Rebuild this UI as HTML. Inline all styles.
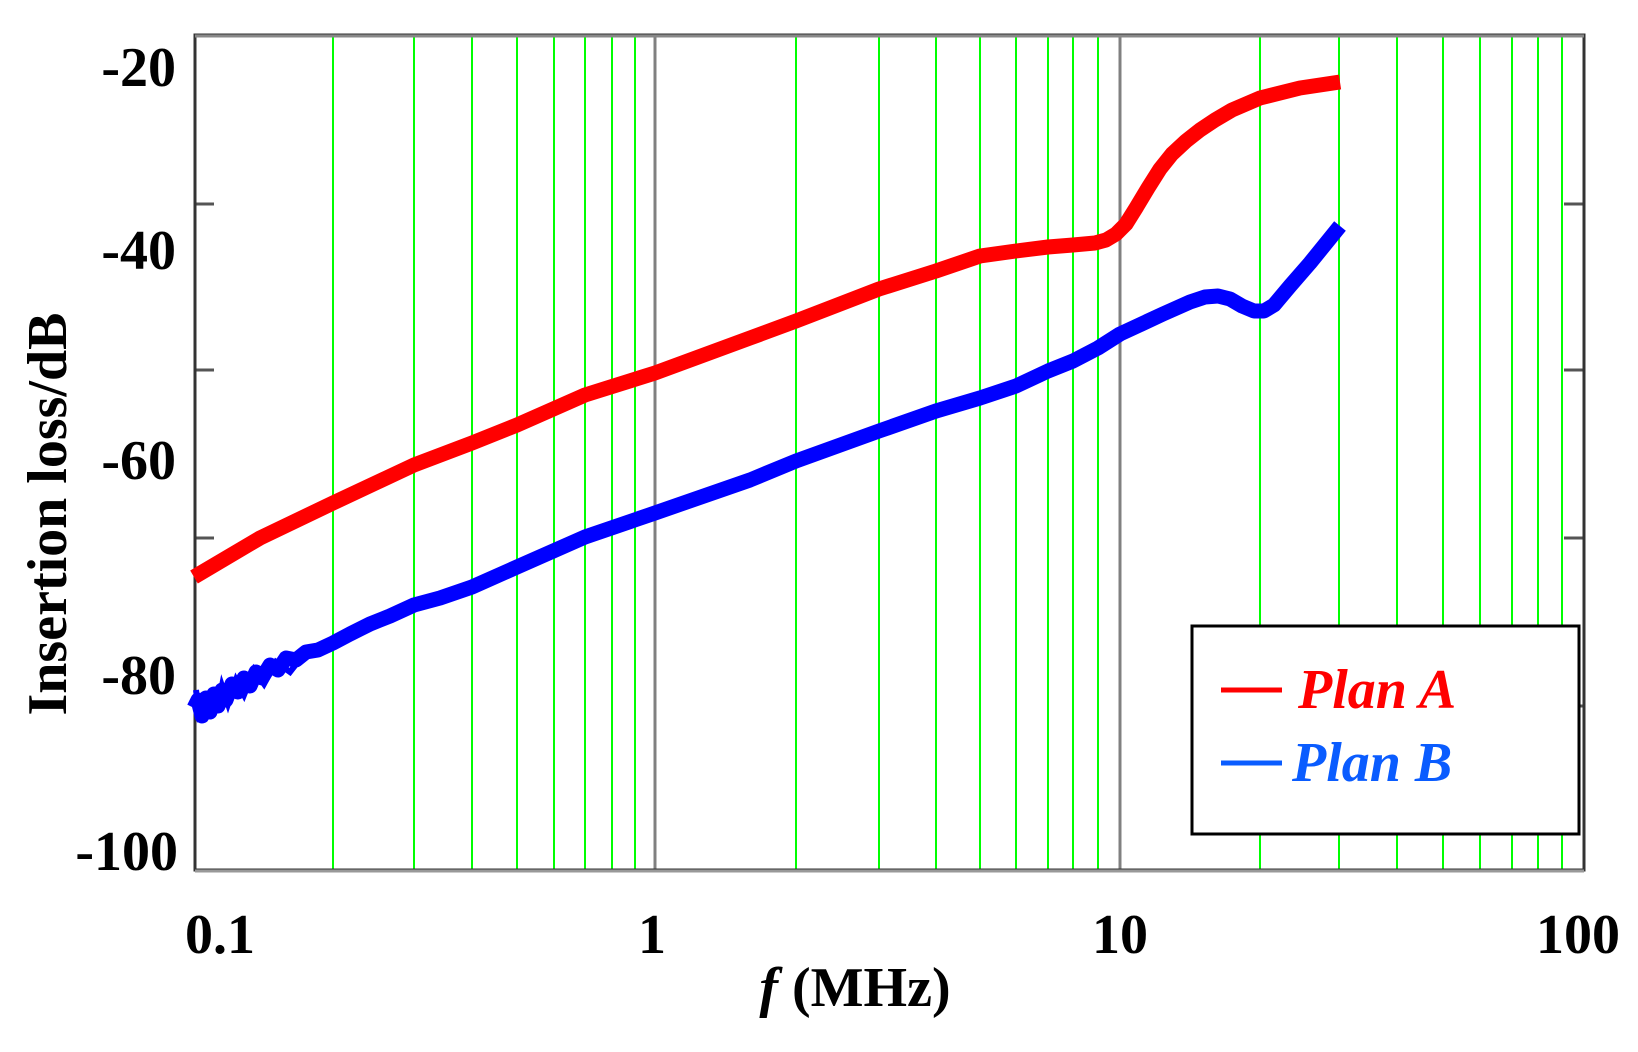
<!DOCTYPE html>
<html><head><meta charset="utf-8"><style>
html,body{margin:0;padding:0;background:#fff}
svg{display:block}
text{font-family:"Liberation Serif",serif;font-weight:bold}
</style></head><body>
<svg width="1638" height="1052" viewBox="0 0 1638 1052" xmlns="http://www.w3.org/2000/svg">
<g stroke="#00ff00" stroke-width="2">
<line x1="333" y1="36" x2="333" y2="870"/><line x1="414" y1="36" x2="414" y2="870"/>
<line x1="472" y1="36" x2="472" y2="870"/><line x1="517" y1="36" x2="517" y2="870"/>
<line x1="554" y1="36" x2="554" y2="870"/><line x1="585" y1="36" x2="585" y2="870"/>
<line x1="612" y1="36" x2="612" y2="870"/><line x1="635" y1="36" x2="635" y2="870"/>
<line x1="796" y1="36" x2="796" y2="870"/><line x1="879" y1="36" x2="879" y2="870"/>
<line x1="936" y1="36" x2="936" y2="870"/><line x1="980" y1="36" x2="980" y2="870"/>
<line x1="1016" y1="36" x2="1016" y2="870"/><line x1="1048" y1="36" x2="1048" y2="870"/>
<line x1="1073" y1="36" x2="1073" y2="870"/><line x1="1098" y1="36" x2="1098" y2="870"/>
<line x1="1260" y1="36" x2="1260" y2="870"/><line x1="1339" y1="36" x2="1339" y2="870"/>
<line x1="1397" y1="36" x2="1397" y2="870"/><line x1="1443" y1="36" x2="1443" y2="870"/>
<line x1="1480" y1="36" x2="1480" y2="870"/><line x1="1512" y1="36" x2="1512" y2="870"/>
<line x1="1538" y1="36" x2="1538" y2="870"/><line x1="1562" y1="36" x2="1562" y2="870"/>
</g>
<g stroke="#808080" stroke-width="3">
<line x1="655" y1="36" x2="655" y2="870"/><line x1="1120" y1="36" x2="1120" y2="870"/>
</g>
<g stroke="#555" stroke-width="3">
<line x1="194" y1="204" x2="214" y2="204"/><line x1="194" y1="370" x2="214" y2="370"/>
<line x1="194" y1="538" x2="214" y2="538"/><line x1="194" y1="706" x2="214" y2="706"/>
<line x1="1564" y1="204" x2="1584" y2="204"/><line x1="1564" y1="370" x2="1584" y2="370"/>
<line x1="1564" y1="538" x2="1584" y2="538"/><line x1="1564" y1="706" x2="1584" y2="706"/>
</g>
<rect x="195" y="35" width="1389" height="835" fill="none" stroke="#333" stroke-width="3"/>
<line x1="195" y1="36" x2="1584" y2="36" stroke="#888" stroke-width="3"/>
<line x1="195" y1="871" x2="1584" y2="871" stroke="#999" stroke-width="3"/>
<polyline fill="none" stroke="#ff0000" stroke-width="15" stroke-linejoin="round" stroke-linecap="butt" points="194,577 260,538 333,503 414,465 472,443 517,425 585,395 655,373 750,338 796,321 879,289 936,271 980,256 1016,251 1048,247 1073,245 1095,243 1106,240 1116,234 1126,224 1136,208 1148,188 1160,169 1172,154 1186,141 1200,130 1215,120 1232,110 1260,98 1300,88 1340,82"/>
<polyline fill="none" stroke="#0000ff" stroke-width="15" stroke-linejoin="round" points="194,708 198,700 202,716 206,698 210,712 214,694 218,706 222,690 226,700 232,684 238,692 244,678 250,686 256,672 262,678 270,665 278,670 286,658 296,660 306,652 318,650 333,643 350,634 370,624 390,616 414,605 440,598 472,587 517,567 585,537 655,513 750,480 796,461 879,431 936,411 980,398 1016,386 1048,371 1073,361 1098,348 1120,334 1163,314 1190,302 1205,297 1218,296 1230,299 1242,306 1254,311 1264,311 1274,305 1290,286 1310,263 1340,226"/>
<polyline fill="none" stroke="#0000ff" stroke-width="6" points="196,690 200,722 204,695 208,718 213,690 217,712 222,686 228,704 236,680 244,695 254,670 264,684 276,662 290,672 304,654"/>
<g font-size="56" text-anchor="end">
<text x="176" y="86">-20</text>
<text x="176" y="269">-40</text>
<text x="176" y="479">-60</text>
<text x="176" y="694">-80</text>
<text x="178" y="870">-100</text>
</g>
<g font-size="56" text-anchor="middle">
<text x="220" y="953">0.1</text>
<text x="652" y="953">1</text>
<text x="1120" y="953">10</text>
<text x="1578" y="953">100</text>
<text x="855" y="1006"><tspan font-style="italic">f</tspan> (MHz)</text>
</g>
<text font-size="56" text-anchor="middle" transform="translate(66,514) rotate(-90)">Insertion loss/dB</text>
<rect x="1192" y="626" width="387" height="208" fill="#fff" stroke="#000" stroke-width="3"/>
<line x1="1221" y1="690" x2="1282" y2="690" stroke="#ff0000" stroke-width="5"/>
<line x1="1221" y1="763" x2="1282" y2="763" stroke="#0a5cff" stroke-width="5"/>
<text x="1298" y="708" font-size="56" font-style="italic" fill="#ff0000">Plan A</text>
<text x="1292" y="781" font-size="56" font-style="italic" fill="#0a5cff">Plan B</text>
</svg>
</body></html>
